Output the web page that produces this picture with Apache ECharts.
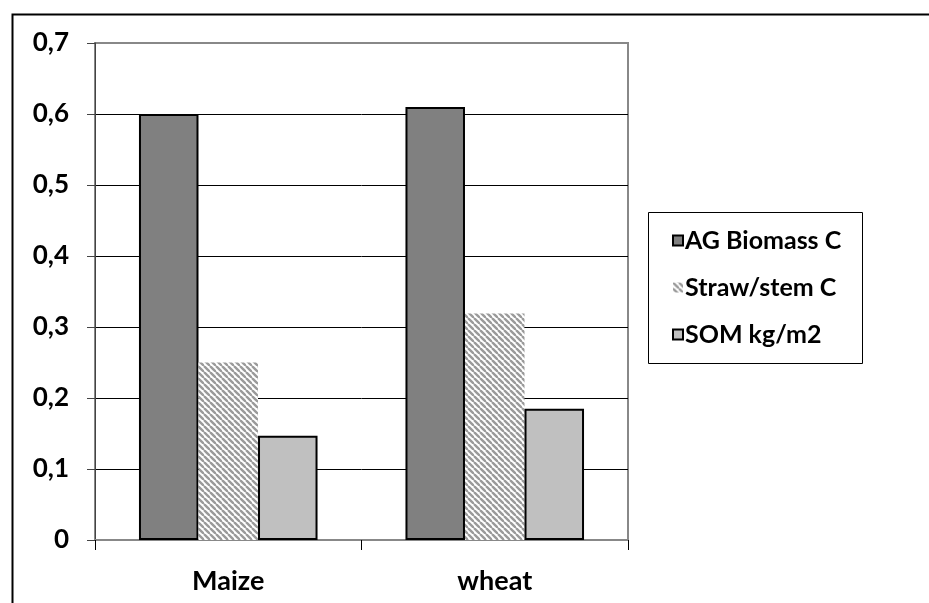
<!DOCTYPE html>
<html><head><meta charset="utf-8">
<script src="https://cdn.jsdelivr.net/npm/echarts@6/dist/echarts.min.js"></script>
<style>html,body{margin:0;padding:0;background:#fff}#c{width:929px;height:603px}</style>
</head><body><div id="c"></div>
<script>
var categories = ['Maize', 'wheat'];
var agBiomassC = [0.6, 0.61];
var strawStemC = [0.25, 0.319];
var somKgM2 = [0.147, 0.185];
var yTicks = [0, 0.1, 0.2, 0.3, 0.4, 0.5, 0.6, 0.7];

function hatch() {
  var s = 6, c = document.createElement('canvas');
  c.width = s; c.height = s;
  var g = c.getContext('2d');
  g.fillStyle = '#ffffff'; g.fillRect(0, 0, s, s);
  g.strokeStyle = '#9a9a9a'; g.lineWidth = 2.4;
  for (var k = -1; k <= 1; k++) {
    g.beginPath(); g.moveTo(k * s, 0); g.lineTo(k * s + s, s); g.stroke();
  }
  return c;
}
var pat = { image: hatch(), repeat: 'repeat' };

var FONT = 'Lato';
var chart = echarts.init(document.getElementById('c'), null, { renderer: 'canvas' });
chart.setOption({
  animation: false,
  backgroundColor: '#fff',
  graphic: [{
    type: 'rect', left: 10, top: 12, shape: { width: 1000, height: 700 },
    style: { fill: 'none', stroke: '#000', lineWidth: 2 }, z: -1, silent: true
  }, {
    type: 'rect', left: 648, top: 212, shape: { width: 214, height: 151 },
    style: { fill: '#fff', stroke: '#000', lineWidth: 1 }, z: 1, silent: true
  }],
  grid: { left: 95, right: 301, top: 43, bottom: 63, show: true, borderColor: '#888', borderWidth: 2 },
  legend: {
    orient: 'vertical', left: 667, top: 223, itemGap: 22, itemWidth: 10, itemHeight: 10,
    icon: 'rect', z: 3,
    textStyle: { fontFamily: FONT, fontWeight: 'bold', fontSize: 25, color: '#000', padding: [0, 0, 0, -3] },
    data: ['AG Biomass C', 'Straw/stem C', 'SOM kg/m2']
  },
  xAxis: {
    type: 'category', data: categories,
    axisLine: { lineStyle: { color: '#888', width: 2 } },
    axisTick: { show: true, length: 10, lineStyle: { color: '#000', width: 1 } },
    axisLabel: { fontFamily: FONT, fontWeight: 'bold', fontSize: 27, color: '#000', margin: 28 }
  },
  yAxis: {
    type: 'value', min: 0, max: 0.7, interval: 0.1,
    axisLine: { show: true, lineStyle: { color: '#444', width: 1 } },
    axisTick: { show: true, length: 8, lineStyle: { color: '#444' } },
    splitLine: { lineStyle: { color: ['#000', '#000', '#000', '#000', '#000', '#000', '#000', '#888'], width: 1 } },
    axisLabel: {
      fontFamily: FONT, fontWeight: 'bold', fontSize: 26, color: '#000', margin: 26,
      formatter: function (v) {
        for (var i = 0; i < yTicks.length; i++) {
          if (Math.abs(yTicks[i] - v) < 1e-9) return String(yTicks[i]).replace('.', ',');
        }
        return '';
      }
    }
  },
  series: [
    { name: 'AG Biomass C', type: 'bar', data: agBiomassC, barGap: '0%', barCategoryGap: '33%',
      itemStyle: { color: '#808080', borderColor: '#000', borderWidth: 2 } },
    { name: 'Straw/stem C', type: 'bar', data: strawStemC, barGap: '0%', barCategoryGap: '33%',
      itemStyle: { color: pat, borderWidth: 0 } },
    { name: 'SOM kg/m2', type: 'bar', data: somKgM2, barGap: '0%', barCategoryGap: '33%',
      itemStyle: { color: '#c0c0c0', borderColor: '#000', borderWidth: 2 } }
  ]
});
</script></body></html>
